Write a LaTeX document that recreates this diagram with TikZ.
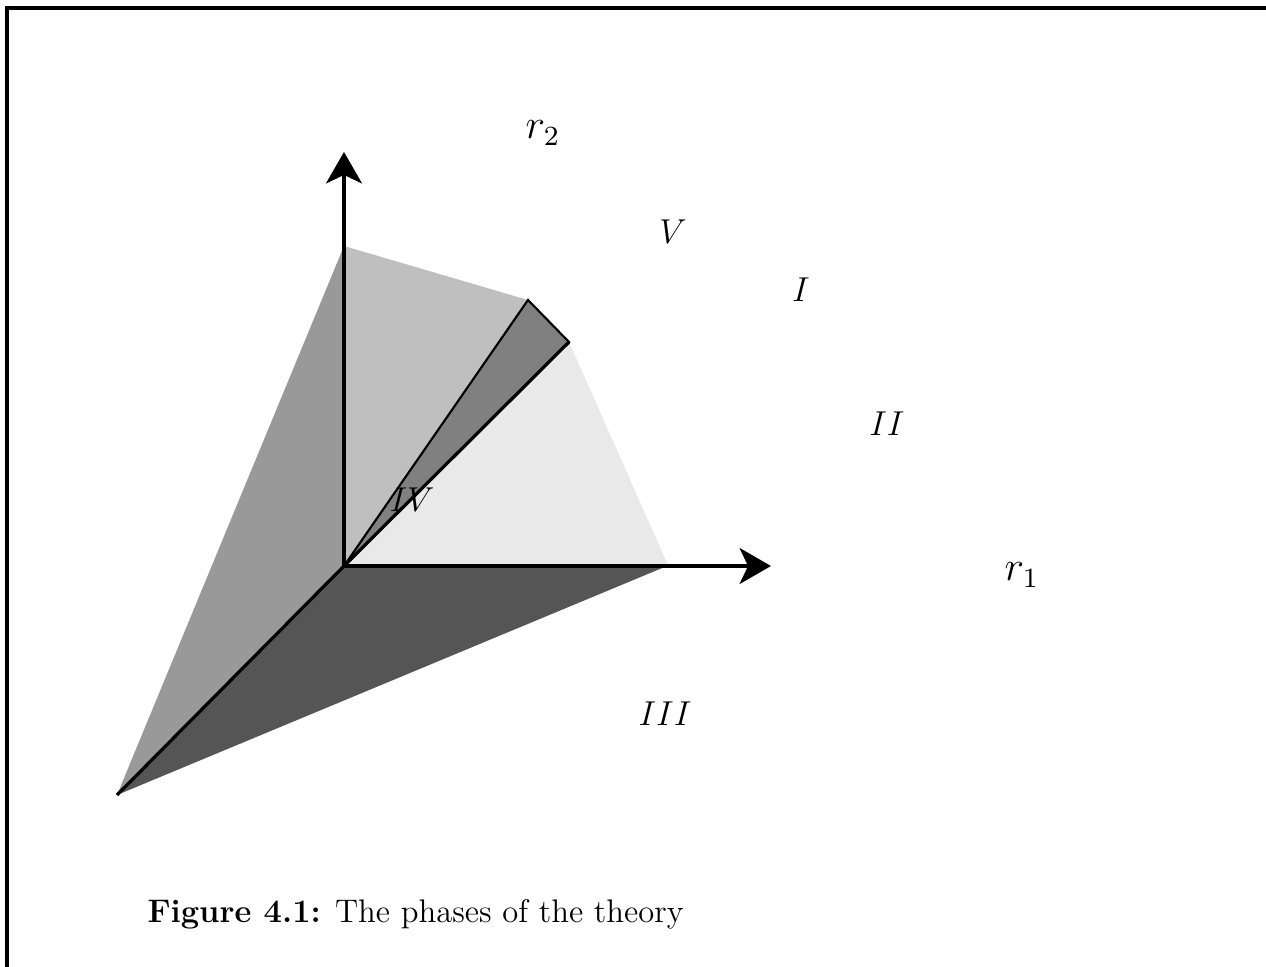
\documentclass[tikz,border=0pt]{standalone}
\usepackage{graphicx}
\usetikzlibrary{arrows.meta}
\definecolor{gLeft}{gray}{0.60}
\definecolor{gTop}{gray}{0.75}
\definecolor{gMid}{gray}{0.50}
\definecolor{gRight}{gray}{0.915}
\definecolor{gBottom}{gray}{0.335}
\newcommand{\phaselabel}[1]{\scalebox{1.08}{$#1$}}
\newcommand{\axislabel}[1]{\scalebox{1.3}{$#1$}}
\begin{document}
\begin{tikzpicture}[x=0.375pt,y=-0.375pt,
  thickline/.style={line width=1.2pt},
  thinline/.style={line width=0.8pt},
  axisarrow/.style={thickline,-{Stealth[length=11.8pt,width=13.5pt,inset=3.2pt]}},
  lbl/.style={font=\fontsize{12}{14}\selectfont},
  framestyle/.style={line width=1.15pt}]
\useasboundingbox (0,0) rectangle (1266,967);
% frame
\coordinate (FR) at (1266,8);
\coordinate (FC) at (7,8);
\coordinate (FB) at (7,967);
\draw[framestyle] (FR) -- (FC) -- (FB);
% points
\coordinate (O) at (344,566);
\coordinate (A) at (344,246);
\coordinate (B) at (528,300);
\coordinate (C) at (569,342);
\coordinate (D) at (667,563);
\coordinate (Dx) at (667,566);
\coordinate (E) at (117,795);
\coordinate (Y) at (344,152);
\coordinate (X) at (771,566);
% regions
\fill[gLeft] (E) -- (A) -- (O) -- cycle;
\fill[gTop] (O) -- (A) -- (B) -- cycle;
\fill[gRight] (O) -- (C) -- (D) -- (Dx) -- cycle;
\fill[gBottom] (O) -- (Dx) -- (E) -- cycle;
\filldraw[fill=gMid, draw=black, thinline, line join=miter] (O) -- (B) -- (C) -- cycle;
\draw[thickline] (O) -- (C);
\draw[thickline] (O) -- (E);
% axes
\draw[axisarrow] (O) -- (Y);
\draw[axisarrow] (O) -- (X);
% labels
\node[lbl] (r2) at (543,133) {\axislabel{r_2}};
\node[lbl] (r1) at (1022,575) {\axislabel{r_1}};
\node[lbl] (lV) at (673,232) {\phaselabel{V}};
\node[lbl] (lI) at (801,290) {\phaselabel{I}};
\node[lbl] (lII) at (887,424) {\phaselabel{II}};
\node[lbl] (lIV) at (412,500) {\phaselabel{IV}};
\node[lbl] (lIII) at (665,714) {\phaselabel{III}};
\node[anchor=base west, inner sep=0pt, font=\fontsize{12.25}{14.5}\selectfont] (cap) at (147,922) {\textbf{Figure 4.1:} The phases of the theory};
\end{tikzpicture}
\end{document}
